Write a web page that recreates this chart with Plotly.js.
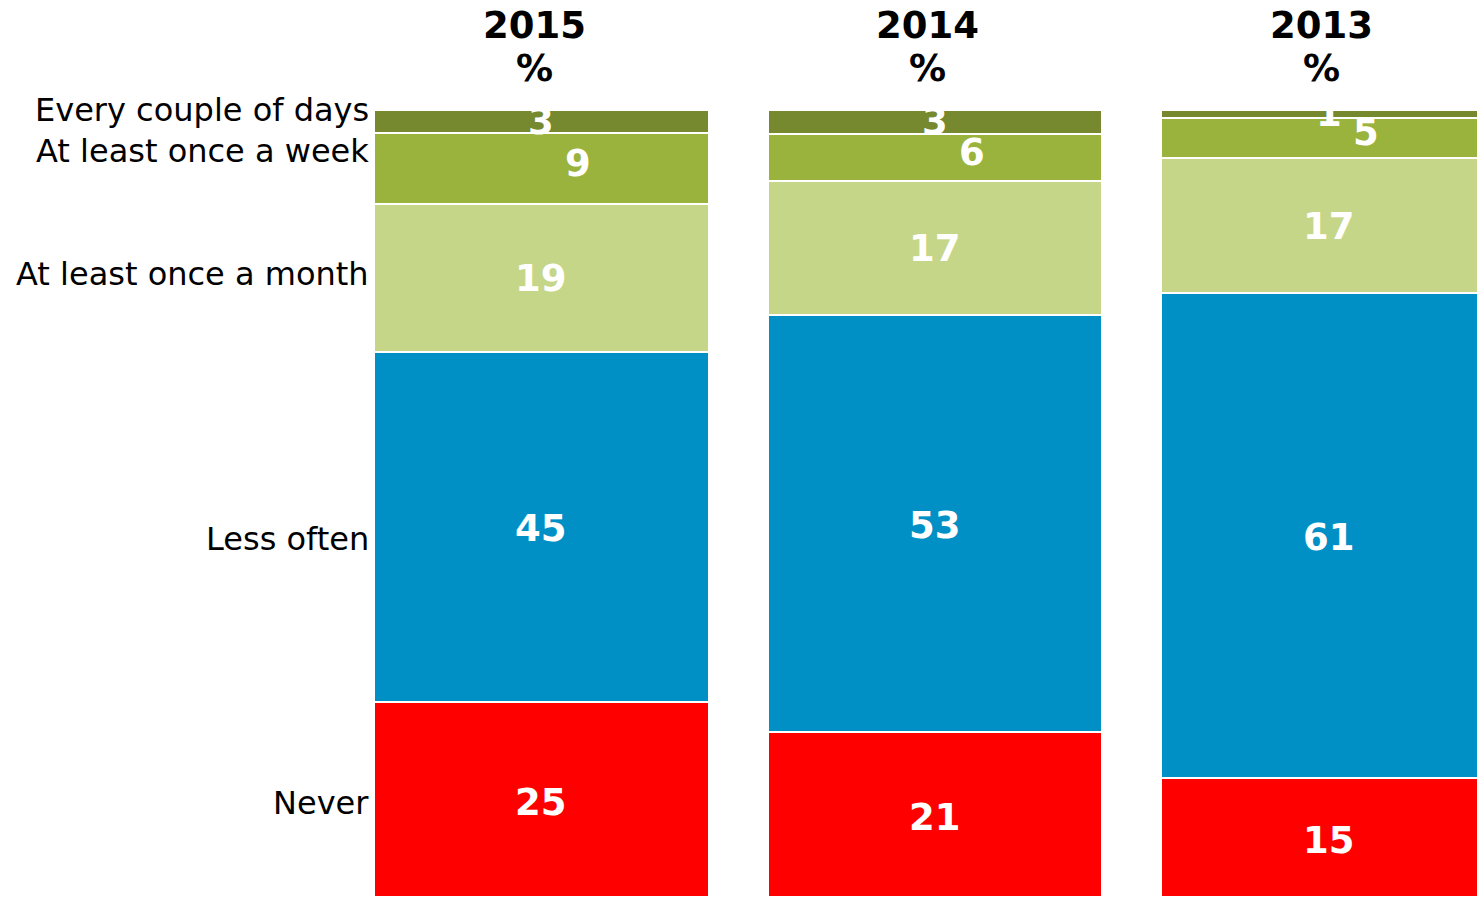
<!DOCTYPE html>
<html>
<head>
<meta charset="utf-8">
<script src="https://cdn.plot.ly/plotly-3.0.1.min.js"></script>
<style>
  html, body { margin: 0; padding: 0; background: #ffffff; }
  #chart { width: 1477px; height: 897px; }
</style>
</head>
<body>
<div id="chart"></div>
<script>
// ---- Data ----
const years = ['2015', '2014', '2013'];
const categories = ['Never', 'Less often', 'At least once a month', 'At least once a week', 'Every couple of days'];
const never = [25, 21, 15];
const lessOften = [45, 53, 61];
const onceMonth = [19, 17, 17];
const onceWeek = [9, 6, 5];
const everyCouple = [3, 3, 1];
const unitLabel = '%';

// ---- Styles ----
const seriesValues = [never, lessOften, onceMonth, onceWeek, everyCouple];
const colors = ['#FF0000', '#0190C6', '#C5D688', '#9AB33D', '#76892E'];
const labelXShift = [0, 0, 0, 37, 0];
const labelYShift = [-3, -2, -1, 5, 0];
const FONT = 'DejaVu Sans, Verdana, sans-serif';

const traces = seriesValues.map((vals, k) => ({
  type: 'bar',
  name: categories[k],
  x: years,
  y: vals,
  marker: { color: colors[k], line: { color: '#ffffff', width: 2 } },
  textposition: 'none',
  hoverinfo: 'x+y+name'
}));

// value labels placed at segment centres (normalised stack)
const annotations = [];
years.forEach((yr, i) => {
  const total = seriesValues.reduce((s, arr) => s + arr[i], 0);
  let base = 0;
  seriesValues.forEach((arr, k) => {
    const v = arr[i];
    annotations.push({
      xref: 'x', yref: 'y', x: i, y: (base + v / 2) / total * 100,
      text: '<b>' + v + '</b>', showarrow: false,
      xanchor: 'center', yanchor: 'middle',
      xshift: labelXShift[k], yshift: labelYShift[k],
      font: { family: FONT, size: 37, color: '#ffffff' }
    });
    base += v;
  });
  // column headers
  annotations.push({
    xref: 'x', yref: 'paper', x: i, y: (897 - 25) / 787,
    text: '<b>' + yr + '</b>', showarrow: false, xanchor: 'center', yanchor: 'middle', xshift: -7,
    font: { family: FONT, size: 37, color: '#000000' }
  });
  annotations.push({
    xref: 'x', yref: 'paper', x: i, y: (897 - 69) / 787,
    text: '<b>' + unitLabel + '</b>', showarrow: false, xanchor: 'center', yanchor: 'middle', xshift: -7,
    font: { family: FONT, size: 37, color: '#000000' }
  });
});

// category labels on the left
const catPixelY = [803, 539, 274, 151, 110];
categories.forEach((c, k) => {
  annotations.push({
    xref: 'paper', yref: 'paper', x: 0, y: (897 - catPixelY[k]) / 787,
    text: c, showarrow: false, xanchor: 'right', yanchor: 'middle', xshift: -3,
    font: { family: FONT, size: 32, color: '#000000' }
  });
});

const layout = {
  width: 1477, height: 897,
  margin: { l: 374, r: 0, t: 110, b: 0, pad: 0 },
  barmode: 'stack',
  barnorm: 'percent',
  bargap: 0.15,
  showlegend: false,
  paper_bgcolor: '#ffffff',
  plot_bgcolor: '#ffffff',
  xaxis: { type: 'category', range: [-0.425, 2.377], visible: false, fixedrange: true },
  yaxis: { range: [0, 100], visible: false, fixedrange: true },
  annotations: annotations
};

Plotly.newPlot('chart', traces, layout, { displayModeBar: false, staticPlot: true });
</script>
</body>
</html>
